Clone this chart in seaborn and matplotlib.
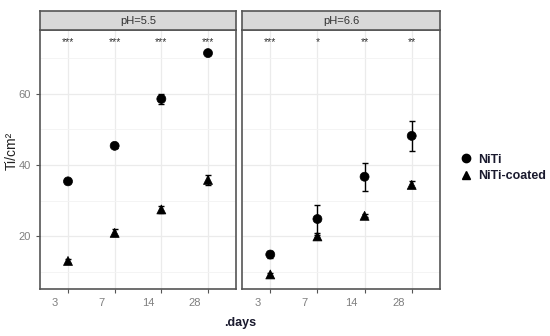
import numpy as np
import pandas as pd
import matplotlib
matplotlib.use("Agg")
import matplotlib.pyplot as plt
import seaborn as sns
from matplotlib.transforms import ScaledTranslation
from matplotlib.lines import Line2D

days = ['3', '7', '14', '28']
panels = ['pH=5.5', 'pH=6.6']

niti_55 = [35.4, 45.4, 58.6, 71.5]
niti_55_err = [0.5, 0.5, 1.5, 0.6]
coat_55 = [13.0, 20.9, 27.5, 35.8]
coat_55_err = [0.5, 1.0, 1.0, 1.5]

niti_66 = [14.8, 24.8, 36.7, 48.2]
niti_66_err = [1.0, 4.0, 3.9, 4.2]
coat_66 = [9.2, 19.9, 25.7, 34.4]
coat_66_err = [0.4, 0.5, 0.4, 1.0]

stars_55 = ['***', '***', '***', '***']
stars_66 = ['***', '*', '**', '**']

rows = []
for ph, nv, ne, cv, ce in [('pH=5.5', niti_55, niti_55_err, coat_55, coat_55_err),
                           ('pH=6.6', niti_66, niti_66_err, coat_66, coat_66_err)]:
    for i, d in enumerate(days):
        rows.append(dict(ph=ph, day=d, pos=i, group='NiTi', val=nv[i], err=ne[i]))
        rows.append(dict(ph=ph, day=d, pos=i, group='NiTi-coated', val=cv[i], err=ce[i]))
df = pd.DataFrame(rows)
stars = {'pH=5.5': stars_55, 'pH=6.6': stars_66}

sns.set_theme(style='white')
plt.rcParams['font.family'] = ['Liberation Sans', 'DejaVu Sans']

fig = plt.figure(figsize=(5.5, 3.36), dpi=100)
H = 336.0
W = 550.0
boxes = [(40, 196), (242, 198)]
top, bottom = 30, 289
markers = {'NiTi': 'o', 'NiTi-coated': '^'}

for k, ph in enumerate(panels):
    x0, w = boxes[k]
    ax = fig.add_axes([x0 / W, (H - bottom) / H, w / W, (bottom - top) / H])
    sub = df[df.ph == ph]
    for g in ['NiTi', 'NiTi-coated']:
        s = sub[sub.group == g]
        ax.errorbar(s.pos, s.val, yerr=s.err, fmt='none', ecolor='black',
                    elinewidth=1, capsize=2.5, capthick=1, zorder=3)
    sns.scatterplot(data=sub, x='pos', y='val', style='group', markers=markers,
                    color='black', s=42, edgecolor='black', linewidth=0.5,
                    legend=False, ax=ax, zorder=4)
    for i, st in enumerate(stars[ph]):
        ax.text(i, 74.6, st, ha='center', va='center', fontsize=7.5, color='#333333')

    ax.set_xlim(-0.6, 3.6)
    ax.set_ylim(5.1, 78)
    ax.set_xticks(range(4))
    ax.set_xticklabels(days)
    ax.set_xticks([], minor=True)
    ax.set_yticks([20, 40, 60])
    ax.set_yticks([10, 30, 50, 70], minor=True)
    ax.grid(True, which='major', color='#EBEBEB', linewidth=0.9)
    ax.grid(True, which='minor', axis='y', color='#F3F3F3', linewidth=0.6)
    ax.set_axisbelow(True)
    for sp in ax.spines.values():
        sp.set_color('#555555')
        sp.set_linewidth(1.2)
    ax.tick_params(axis='both', which='major', length=3, width=0.8, color='#555555',
                   labelsize=8, labelcolor='#7F7F7F', direction='out',
                   bottom=True, left=(k == 0))
    ax.tick_params(axis='both', which='minor', length=0)
    if k == 1:
        ax.set_yticklabels([])
    for lab in ax.get_xticklabels():
        lab.set_transform(lab.get_transform() + ScaledTranslation(-13 / 100, 0, fig.dpi_scale_trans))
    ax.set_xlabel('')
    ax.set_ylabel('')

    sax = fig.add_axes([x0 / W, (H - top) / H, w / W, 19 / H])
    sax.set_xticks([])
    sax.set_yticks([])
    sax.set_facecolor('#D9D9D9')
    for sp in sax.spines.values():
        sp.set_color('#555555')
        sp.set_linewidth(1.2)
    sax.text(0.5, 0.5, ph, ha='center', va='center', fontsize=8, color='#333333',
             transform=sax.transAxes)

fig.text(0.022, 0.55, 'Ti/cm²', rotation=90, ha='center', va='center',
         fontsize=10, color='#222222')
fig.text(240 / W, 1 - 323 / H, '.days', ha='center', va='center',
         fontsize=9, fontweight='bold', color='#1a1a2e')

handles = [Line2D([], [], marker='o', color='black', linestyle='none', markersize=6),
           Line2D([], [], marker='^', color='black', linestyle='none', markersize=6)]
leg = fig.legend(handles, ['NiTi', 'NiTi-coated'], loc='center left',
                 bbox_to_anchor=(447 / W, 1 - 168 / H), frameon=False,
                 prop=dict(size=9, weight='bold'), handletextpad=0.4,
                 labelspacing=0.35, handlelength=1.2)
for t in leg.get_texts():
    t.set_color('#1a1a2e')

fig.savefig('out.png', dpi=100)
